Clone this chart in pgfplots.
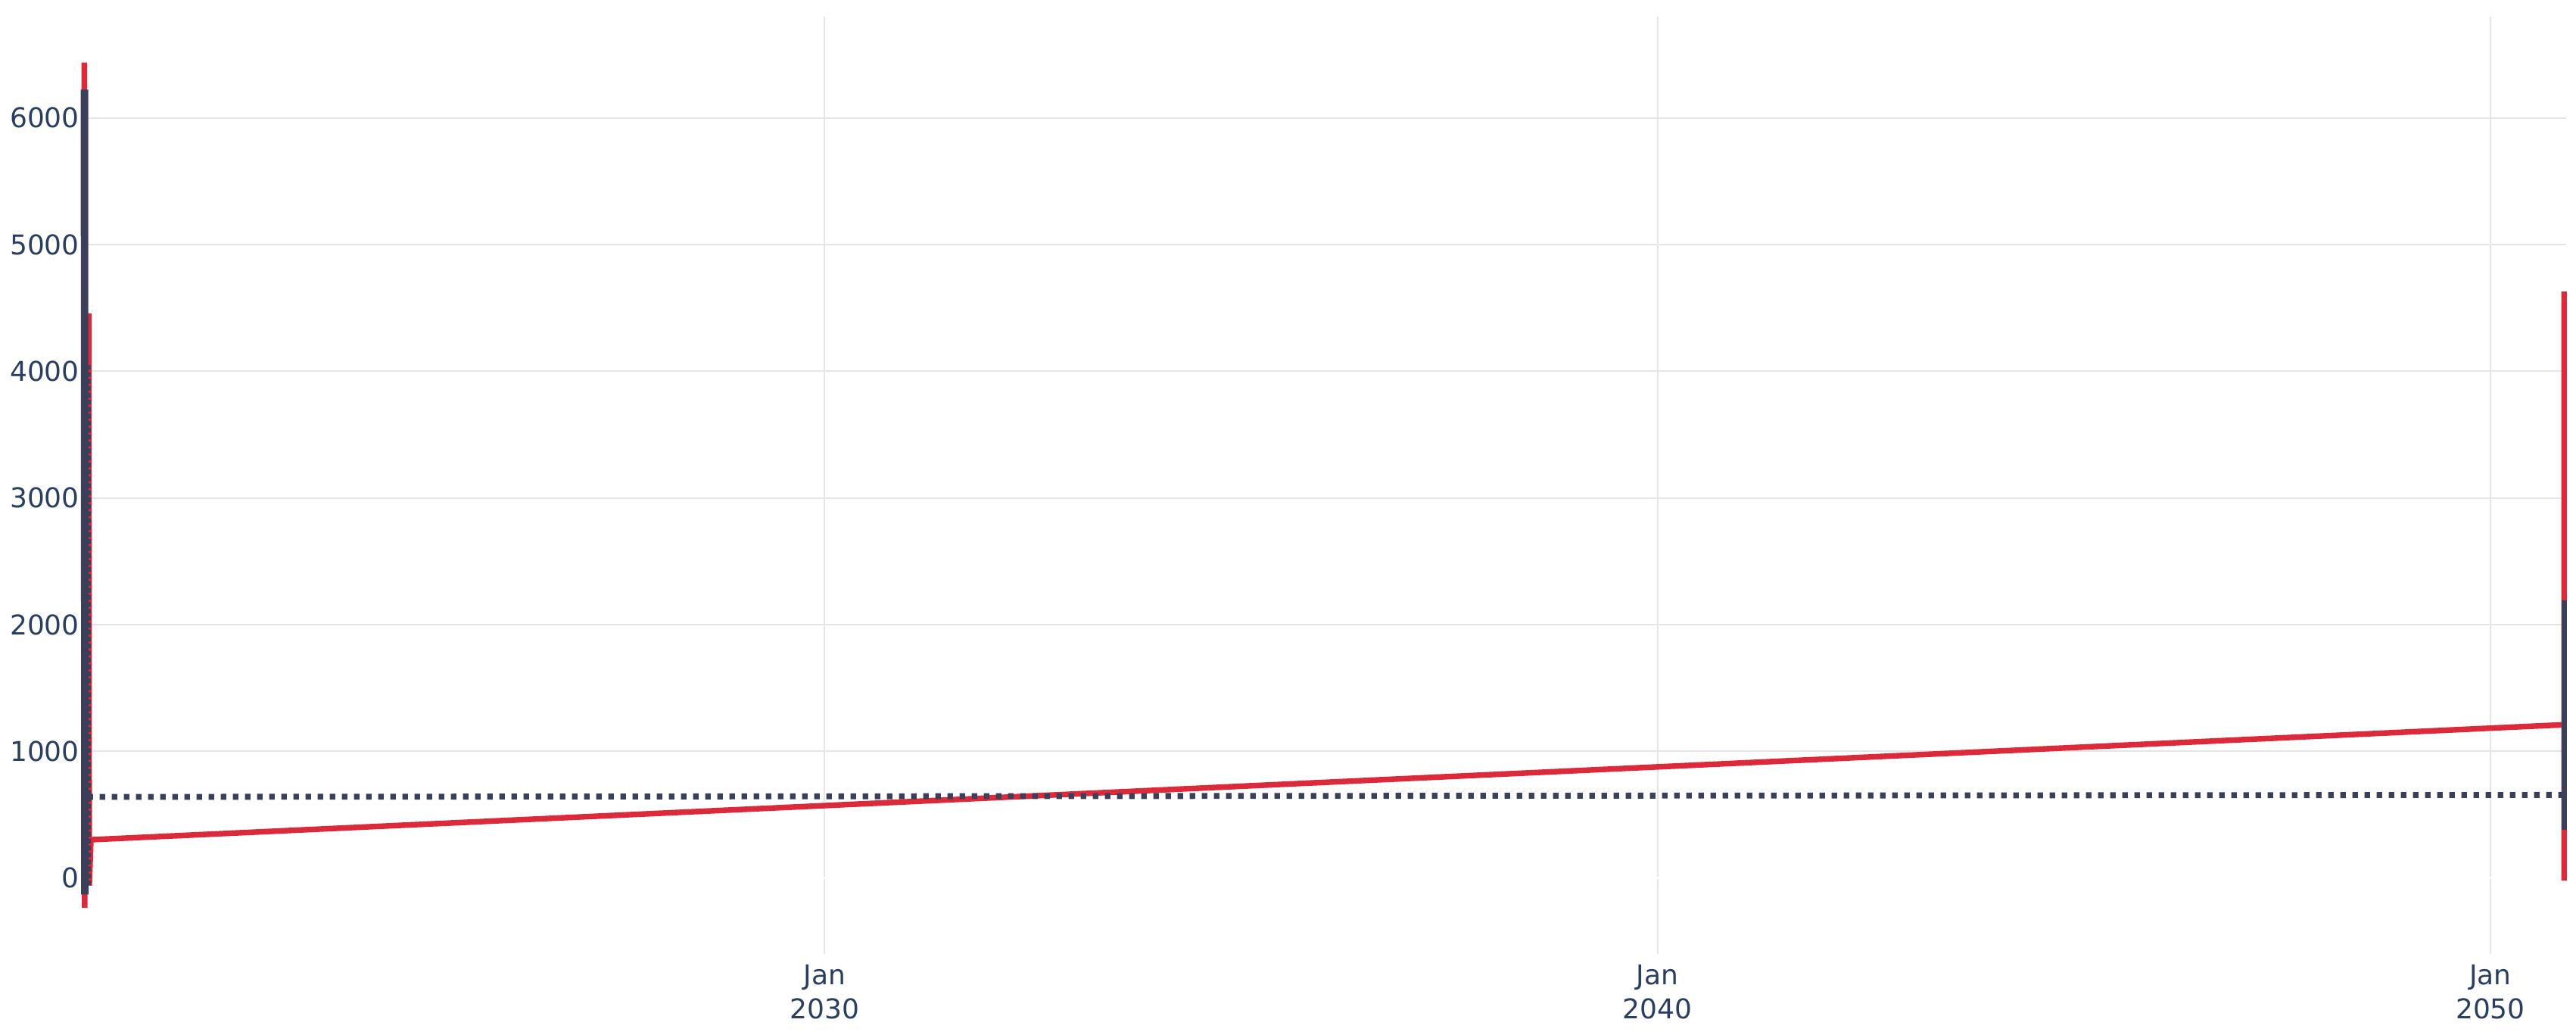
\documentclass[border=0pt]{standalone}
\usepackage{pgfplots}
\pgfplotsset{compat=1.18}
\usepackage{fontspec}
\setmainfont{DejaVu Sans}
\definecolor{txt}{HTML}{2A3F5F}
\definecolor{grd}{HTML}{E5E5E5}
\definecolor{redl}{HTML}{DC2A3A}
\definecolor{darkl}{HTML}{3C3F5A}
\begin{document}
\begin{tikzpicture}
\begin{axis}[
  at={(0,0)}, anchor=south west,
  width=820.5pt, height=309.5pt, scale only axis,
  xmin=2021.08, xmax=2050.91,
  ymin=-600, ymax=6800,
  axis line style={draw=none},
  tick style={draw=none},
  xtick={2030,2040,2050},
  xticklabels={Jan\\2030,Jan\\2040,Jan\\2050},
  xticklabel style={align=center, text=txt, inner sep=0pt, anchor=north, yshift=-3.3pt,
    font=\fontsize{9}{11.3}\selectfont},
  ytick={0,1000,2000,3000,4000,5000,6000},
  yticklabel style={text=txt, inner sep=0pt, anchor=east, xshift=-0.6pt,
    font=\fontsize{9}{11.3}\selectfont},
  /pgf/number format/assume math mode=true,
  /pgf/number format/set thousands separator={},
  scaled y ticks=false,
  grid=major,
  major grid style={grd, line width=0.5pt},
  clip=false,
]
\draw[white, line width=0.9pt] (axis cs:2021.08,0) -- (axis cs:2050.91,0);
% red series
\addplot[redl, line width=1.85pt, line join=miter] coordinates {
  (2021.11,6437) (2021.115,-234) (2021.165,4458) (2021.17,-60)
  (2021.19,302) (2050.885,1210) (2050.885,4630) (2050.885,-19)
};
% dark series: dense cluster at the start
\addplot[darkl, line width=1.5pt] coordinates {
  (2021.095,6224) (2021.1,-130) (2021.115,6224) (2021.12,-130) (2021.13,6224) (2021.135,-130)
};
\addplot[darkl, line width=1.3pt, dash pattern=on 1.6pt off 0.7pt] coordinates {
  (2021.163,4050) (2021.166,-60)
};
% dark series: dotted line
\addplot[darkl, line width=1.95pt, dash pattern=on 1.8pt off 2.2pt] coordinates {
  (2021.15,640) (2050.88,656)
};
% dark series: cluster at the end
\addplot[darkl, line width=1.7pt] coordinates {
  (2050.885,2191) (2050.885,378)
};
\end{axis}
\pgfresetboundingbox
\path (-27pt,-26.75pt) rectangle (823.75pt,315pt);
\end{tikzpicture}
\end{document}
